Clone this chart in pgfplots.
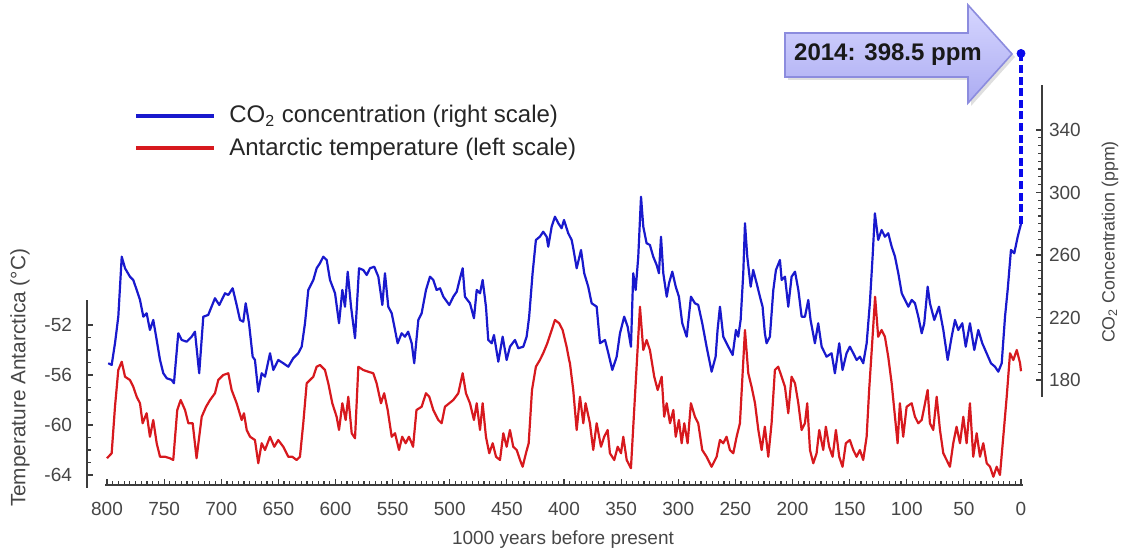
\documentclass[border=0pt]{standalone}
\usepackage{fontspec}
\setmainfont{Liberation Sans}
\usepackage{pgfplots}
\pgfplotsset{compat=1.18}
\usetikzlibrary{shadows}
\definecolor{co2blue}{RGB}{25,25,205}
\definecolor{tempred}{RGB}{215,25,30}
\definecolor{axisgray}{RGB}{60,60,60}
\definecolor{textgray}{RGB}{70,70,70}
\definecolor{callfillA}{RGB}{214,214,255}
\definecolor{callfillB}{RGB}{172,172,242}
\definecolor{calldraw}{RGB}{140,140,222}
\begin{document}
\begin{tikzpicture}
\path[use as bounding box] (0,0) rectangle (561pt,275.5pt);
\pgfplotsset{
  every axis/.append style={
    scale only axis, clip=false,
    /pgf/number format/assume math mode=true,
    tick label style={font=\fontsize{9.5}{11}\selectfont, text=textgray},
    axis line style={axisgray, line width=0.7pt},
    every tick/.append style={axisgray, line width=0.6pt},
    tick align=inside,
    major tick length=3pt, minor tick length=1.8pt,
  }
}
% ---------- temperature + x axis ----------
\begin{axis}[
  at={(52.5pt,33pt)}, anchor=south west,
  width=459pt, height=92.5pt,
  xmin=-1.75, xmax=801.75, x dir=reverse,
  ymin=-64.8, ymax=-50,
  axis x line*=bottom, axis y line=none,
  xtick={0,50,...,800}, minor x tick num=9,
  xticklabel style={yshift=-5pt},
  ytick=\empty,
]
\addplot[tempred, line width=1.1pt, line join=round] coordinates {
(800,-62.66)(795.9,-62.26)(793.0,-58.54)(790.1,-55.6)(787.1,-54.94)(784.2,-56.14)(779.9,-56.4)(777.0,-56.94)(774.0,-57.74)(771.1,-58.26)(768.8,-59.86)(765.3,-59.06)(762.4,-60.94)(759.5,-59.6)(756.5,-61.46)(753.6,-62.54)(749.2,-62.54)(744.9,-62.66)(742.0,-62.8)(738.5,-58.8)(735.5,-58)(731.7,-58.8)(728.8,-59.86)(725.0,-59.86)(721.6,-62.66)(717.1,-59.34)(713.3,-58.54)(709.8,-58)(705.5,-57.46)(702.6,-56.4)(698.2,-56)(693.8,-55.86)(690.9,-57.2)(686.5,-58.26)(682.1,-59.6)(680.1,-59.06)(677.7,-60.4)(674.8,-60.94)(670.5,-61.2)(667.6,-63.06)(664.6,-61.46)(661.7,-62)(657.3,-60.94)(653.6,-61.74)(650.1,-61.2)(645.7,-61.74)(641.3,-62.54)(637.8,-62.54)(634.0,-62.8)(631.1,-62.54)(628.2,-59.86)(625.2,-56.66)(622.3,-56.4)(619.4,-56.14)(616.5,-55.34)(613.6,-55.2)(609.2,-55.6)(606.3,-56.66)(602.8,-58.26)(599.0,-59.34)(596.9,-60.4)(594.0,-58.26)(591.1,-59.6)(588.8,-57.74)(585.8,-60.66)(582.9,-61.06)(580.0,-55.34)(575.7,-55.6)(571.3,-55.74)(566.9,-55.86)(564.0,-56.66)(560.2,-58.26)(557.4,-57.46)(554.3,-58.8)(550.8,-60.94)(547.9,-60.66)(544.4,-62)(541.6,-60.94)(538.6,-61.46)(535.7,-60.94)(533.3,-61.46)(532.1,-61.74)(529.1,-58.8)(524.6,-58.54)(520.8,-57.46)(517.9,-57.74)(514.4,-58.8)(510.0,-59.6)(507.1,-59.86)(504.2,-58.54)(500.4,-58.26)(496.9,-58)(492.5,-57.46)(488.7,-55.86)(485.8,-57.46)(482.3,-58.26)(478.8,-59.6)(476.4,-58.26)(473.5,-60.4)(471.2,-58.26)(468.3,-60.94)(465.4,-62.26)(462.4,-61.46)(459.5,-62.54)(456.0,-62.8)(453.1,-60.66)(450.2,-61.74)(447.3,-60.4)(444.4,-61.74)(441.4,-62)(438.5,-62.8)(436.2,-63.34)(433.3,-62.26)(430.9,-61.46)(428.0,-57.2)(424.6,-55.34)(421.1,-54.8)(418.2,-54.26)(414.6,-53.46)(411.7,-52.66)(407.9,-51.6)(404.2,-51.86)(401.2,-52.4)(397.7,-53.74)(395.5,-54.8)(394.8,-55.06)(391.9,-57.2)(388.9,-60.4)(386.0,-57.74)(383.1,-59.86)(381.1,-58.26)(377.3,-59.86)(374.4,-62)(371.4,-59.86)(367.6,-61.74)(364.8,-60.94)(361.8,-60.4)(359.8,-62.26)(356.0,-62.8)(353.0,-61.74)(350.1,-62.26)(348.1,-60.94)(345.1,-62.8)(341.4,-63.46)(333.5,-50.54)(330.6,-54)(327.7,-53.2)(324.8,-54)(321.0,-56.14)(318.0,-57.2)(314.5,-56.14)(312.3,-59.34)(310.1,-58.26)(307.2,-59.86)(304.3,-58.8)(302.2,-60.94)(299.4,-59.6)(297.0,-61.46)(294.7,-59.86)(291.8,-61.46)(288.9,-58.26)(285.4,-59.34)(282.5,-59.86)(279.0,-62)(275.2,-62.54)(270.8,-63.34)(266.4,-62.54)(263.5,-61.2)(260.6,-61.46)(257.7,-60.94)(254.8,-62)(251.8,-62.26)(248.9,-60.94)(246.0,-59.86)(241.6,-52.4)(238.7,-55.86)(235.8,-56.94)(232.8,-58.26)(229.9,-60.4)(227.0,-62)(224.2,-60.14)(221.2,-62.54)(218.3,-59.86)(215.4,-55.6)(212.5,-55.34)(209.5,-56.14)(206.6,-56.94)(203.7,-59.06)(200.8,-56.14)(197.8,-56.66)(194.9,-58.26)(192.0,-60.4)(189.1,-59.86)(187.1,-58.26)(184.7,-62)(181.8,-63.06)(178.9,-62.26)(176.6,-60.4)(173.1,-62)(170.8,-60.14)(167.9,-61.74)(164.9,-62.54)(162.0,-60.4)(159.1,-62.54)(156.2,-63.34)(153.3,-61.46)(149.8,-61.2)(146.8,-62)(143.9,-62.54)(141.0,-62)(138.1,-62.8)(135.1,-60.94)(132.9,-57.2)(129.9,-52.94)(127.7,-49.74)(125.0,-52.94)(122.0,-52.4)(119.1,-52.94)(116.2,-54.54)(113.2,-56.66)(110.3,-59.34)(108.0,-61.46)(106.0,-58.26)(103.1,-60.94)(100.1,-58.54)(95.7,-58.26)(92.8,-59.34)(89.9,-59.86)(86.9,-59.6)(84.0,-58.26)(81.7,-57.2)(79.7,-59.86)(76.8,-60.4)(73.8,-57.74)(70.9,-60.4)(68.0,-62.26)(65.1,-62.8)(62.2,-63.34)(59.3,-61.46)(56.4,-60.14)(53.4,-61.46)(50.5,-59.34)(47.6,-61.46)(44.7,-58.26)(41.8,-62.54)(38.8,-60.66)(35.9,-62.54)(33.0,-61.46)(30.0,-63.06)(27.1,-63.34)(24.2,-64.14)(21.3,-63.34)(18.4,-64)(15.5,-60.94)(12.5,-57.74)(9.6,-54.26)(6.7,-54.8)(3.7,-54)(0.8,-55.06)(0,-55.7)
};
\end{axis}
% ---------- left y axis ----------
\begin{axis}[
  at={(43.5pt,31.75pt)}, anchor=south west,
  width=20pt, height=93.75pt,
  xmin=0, xmax=1, ymin=-65, ymax=-50,
  axis y line*=left, axis x line=none,
  ytick={-64,-60,-56,-52}, minor y tick num=3,
  yticklabel style={xshift=-4pt},
]
\addplot[draw=none] coordinates {(0.5,-60)};
\end{axis}
% ---------- CO2 + right axis ----------
\begin{axis}[
  at={(52.5pt,77pt)}, anchor=south west,
  width=468.5pt, height=156pt,
  xmin=-18.38, xmax=801.75, x dir=reverse,
  ymin=169.1, ymax=368.8,
  axis y line*=right, axis x line=none,
  ytick={180,220,...,340}, minor y tick num=7,
  legend style={at={(0.024,0.961)}, anchor=north west, draw=none, fill=none,
    font=\fontsize{12}{14}\selectfont, text=black!85, row sep=2pt},
  legend cell align=left,
  legend image code/.code={\draw[#1, line width=2.2pt] (0pt,0pt) -- (39pt,0pt); \path (43.5pt,0pt);},
]
\addplot[co2blue, line width=1.1pt, line join=round] coordinates {
(798.9,190.7)(795.9,189.6)(793.0,203.5)(790.1,220.5)(787.1,258.9)(784.2,251.5)(779.9,246.1)(777.0,244)(774.0,237.6)(771.1,231.2)(768.2,220.5)(765.3,222.7)(762.4,212)(759.5,218.4)(756.5,205.6)(753.6,192.8)(750.7,184.3)(747.7,181.1)(743.4,180)(741.4,177.9)(737.6,209.9)(734.6,205.6)(730.2,204.5)(725.9,207.7)(723.0,210.9)(719.3,184.3)(715.7,220.5)(711.4,221.6)(705.5,232.3)(701.7,228)(696.7,235.5)(693.8,234.4)(690.0,238.7)(686.5,228)(683.6,218.4)(680.7,217.3)(678.6,229.1)(675.7,216.3)(672.5,194.9)(670.5,192.8)(667.6,172.5)(664.6,184.3)(661.7,182.1)(657.3,197.1)(654.4,186.4)(650.1,192.8)(645.7,190.7)(641.3,188.5)(637.0,193.9)(632.6,197.1)(629.6,201.3)(626.7,216.3)(623.8,237.6)(619.4,244)(616.5,251.5)(613.6,254.7)(610.7,258.9)(607.7,256.8)(604.8,244)(600.4,235.5)(596.9,216.3)(594.0,237.6)(591.7,226.9)(589.3,249.3)(586.4,226.9)(582.9,206.7)(579.4,251.5)(575.7,250.4)(572.7,247.2)(569.8,251.5)(566.1,252.5)(562.5,246.1)(559.0,228)(556.7,248.3)(553.8,226.9)(550.8,222.7)(547.9,212)(545.6,203.5)(542.1,209.9)(539.2,207.7)(536.4,210.9)(533.3,203.5)(531.1,190.7)(527.5,218.4)(524.6,222.7)(520.8,237.6)(517.3,246.1)(514.4,244)(511.5,237.6)(508.5,238.7)(505.6,233.3)(500.4,228)(496.9,233.3)(493.9,236.5)(491.0,245.1)(488.7,251.5)(486.7,233.3)(482.3,229.1)(478.8,219.5)(476.4,237.6)(473.5,235.5)(471.2,244)(468.3,226.9)(466.3,205.6)(463.3,203.5)(461.3,208.8)(457.5,191.7)(453.7,207.7)(450.2,192.8)(447.3,201.3)(442.9,205.6)(440.0,200.3)(435.6,201.3)(432.7,207.7)(430.5,220.5)(427.5,248.3)(424.6,269.6)(421.1,271.7)(418.2,274.9)(415.2,271.7)(413.8,265.3)(410.8,278.1)(407.9,284.5)(405.0,280.3)(402.1,277.1)(400.0,282.4)(396.3,273.9)(393.3,269.6)(391.9,264.3)(388.9,251.5)(385.1,263.2)(382.3,248.3)(378.8,239.7)(375.8,229.1)(371.4,226.9)(368.5,203.5)(364.1,205.6)(361.2,197.1)(357.7,186.4)(353.9,194.9)(351.0,209.9)(347.3,220.5)(344.3,214.1)(341.4,201.3)(339.4,248.3)(337.3,237.6)(335.0,258.9)(332.6,297.3)(330.6,278.1)(327.7,267.5)(324.8,266.4)(321.9,258.9)(318.9,253.6)(316.9,248.3)(315.1,271.7)(313.1,248.3)(310.1,233.3)(308.1,241.9)(305.2,249.3)(302.2,239.7)(299.4,233.3)(296.5,216.3)(292.6,207.7)(288.9,233.3)(285.4,229.1)(282.5,228)(279.0,216.3)(275.2,201.3)(270.8,185.3)(267.3,194.9)(265.6,212)(263.5,226.9)(260.6,207.7)(256.2,201.3)(252.4,196)(249.5,212)(247.5,207.7)(245.4,218.4)(243.1,248.3)(241.6,280.3)(239.6,258.9)(236.6,239.7)(234.4,250.4)(231.4,241.9)(228.5,233.3)(226.2,226.9)(224.2,209.9)(222.7,203.5)(219.8,207.7)(216.8,237.6)(214.5,250.4)(211.0,256.8)(209.5,244)(206.6,246.1)(203.7,226.9)(200.8,246.1)(197.8,249.3)(194.9,237.6)(192.0,220.5)(189.1,220.5)(186.2,231.2)(184.2,218.4)(180.4,203.5)(177.5,216.3)(174.5,201.3)(170.2,194.9)(165.8,197.1)(162.9,184.3)(159.1,203.5)(156.2,186.4)(152.7,197.1)(149.8,201.3)(146.8,197.1)(143.9,192.8)(141.0,194.9)(138.1,190.7)(135.1,203.5)(132.3,229.1)(129.9,258.9)(127.9,286.7)(125.0,269.6)(122.0,276)(119.1,271.7)(116.2,273.9)(113.2,265.3)(110.3,258.9)(107.4,248.3)(104.4,235.5)(101.5,231.2)(98.6,226.9)(95.7,231.2)(92.8,229.1)(89.9,220.5)(86.9,209.9)(84.7,216.3)(81.7,239.7)(79.7,229.1)(75.9,218.4)(71.8,226.9)(68.0,212)(64.2,192.8)(60.7,207.7)(57.8,218.4)(54.9,212)(51.4,216.3)(48.4,201.3)(44.7,216.3)(40.9,199.2)(37.4,212)(33.9,203.5)(30.1,197.1)(26.3,190.7)(22.8,188.5)(19.9,185.3)(16.9,190.7)(14.0,220.5)(11.7,237.6)(8.8,263.2)(5.9,261.1)(2.9,271.7)(0,280)
};
\addlegendentry{CO\textsubscript{2} concentration (right scale)}
\addlegendimage{tempred, line width=2.2pt}
\addlegendentry{Antarctic temperature (left scale)}
\addplot[color={rgb,255:red,10;green,10;blue,235}, line width=2pt, dash pattern=on 4pt off 1.8pt, forget plot] coordinates {(0,280) (0,389)};
\addplot[color={rgb,255:red,10;green,10;blue,235}, only marks, mark=*, mark size=2pt, forget plot] coordinates {(0,389)};
\end{axis}
% ---------- callout ----------
\draw[calldraw, line width=0.8pt, top color=callfillA, bottom color=callfillB, drop shadow={opacity=0.25, shadow xshift=1.5pt, shadow yshift=-1.5pt}]
  (392.5pt,237pt) -- (392.5pt,259pt) -- (484pt,259pt) -- (484pt,273pt) -- (506pt,248.5pt) -- (484pt,224pt) -- (484pt,237pt) -- cycle;
\node[font=\bfseries\fontsize{12}{14}\selectfont, text=black!90] at (444pt,248pt) {2014: 398.5 ppm};
% ---------- axis labels ----------
\node[rotate=90, font=\fontsize{10.4}{12}\selectfont, text=textgray] at (10pt,86.5pt) {Temperature Antarctica (°C)};
\node[rotate=90, font=\fontsize{8.9}{11}\selectfont, text=textgray] at (555pt,154.5pt) {CO\textsubscript{2} Concentration (ppm)};
\node[font=\fontsize{9.5}{11}\selectfont, text=textgray] at (281.5pt,5.5pt) {1000 years before present};
\end{tikzpicture}
\end{document}
